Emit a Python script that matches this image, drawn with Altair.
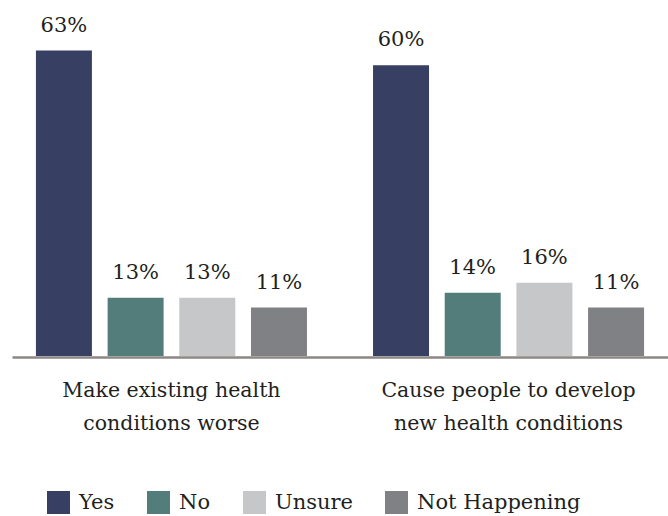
import altair as alt
import pandas as pd

categories = ["Make existing health conditions worse", "Cause people to develop new health conditions"]
responses = ["Yes", "No", "Unsure", "Not Happening"]
values_existing = [63, 13, 13, 11]
values_new = [60, 14, 16, 11]
colors = ["#373f63", "#527d7b", "#c6c7c9", "#808184"]

rows = []
for cat, vals in zip(categories, [values_existing, values_new]):
    for r, v in zip(responses, vals):
        rows.append({"cat": cat, "resp": r, "value": v})
df = pd.DataFrame(rows)

FONT = "DejaVu Serif"
TXT = "#231f20"

x = alt.X("cat:N", sort=categories, title=None,
          scale=alt.Scale(paddingInner=0.196, paddingOuter=0.071),
          axis=alt.Axis(labelAngle=0, ticks=False, tickSize=0, labelPadding=23,
                        labelExpr="datum.value == 'Make existing health conditions worse' ? ['Make existing health', 'conditions worse'] : ['Cause people to develop', 'new health conditions']",
                        labelFont=FONT, labelFontSize=20.5, labelColor=TXT,
                        labelLineHeight=33, labelBaseline="top", labelLimit=0,
                        domainColor="#8c8784", domainWidth=2.5, offset=1,
                        grid=False))
xo = alt.XOffset("resp:N", sort=responses,
                 scale=alt.Scale(paddingInner=0.219, paddingOuter=0))
y = alt.Y("value:Q", title=None,
          scale=alt.Scale(domain=[1.2, 71.2], clamp=True, zero=False, nice=False),
          axis=None)

bars = alt.Chart(df).mark_bar().encode(
    x=x, xOffset=xo, y=y,
    color=alt.Color("resp:N", sort=responses,
                    scale=alt.Scale(domain=responses, range=colors),
                    legend=alt.Legend(title=None, orient="none", direction="horizontal",
                                      legendX=35, legendY=481,
                                      symbolType="square", symbolSize=529,
                                      symbolStrokeWidth=0, symbolOpacity=1,
                                      labelFont=FONT, labelFontSize=21, labelColor=TXT,
                                      labelLimit=0,
                                      labelOffset=9, columnPadding=32, padding=0)),
)

labels = alt.Chart(df).transform_calculate(
    lab="datum.value + '%'"
).mark_text(dy=-19, baseline="alphabetic", font=FONT, fontSize=21, color=TXT).encode(
    x=x, xOffset=xo, y=y, text="lab:N"
)

chart = alt.layer(bars, labels).properties(
    width=656, height=346,
    padding={"left": 12, "top": 10, "right": 0, "bottom": 160},
    autosize=alt.AutoSizeParams(type="none"),
    background="white",
).configure_view(stroke=None)

chart.save("out.html", embed_options={"renderer": "svg", "actions": False})
